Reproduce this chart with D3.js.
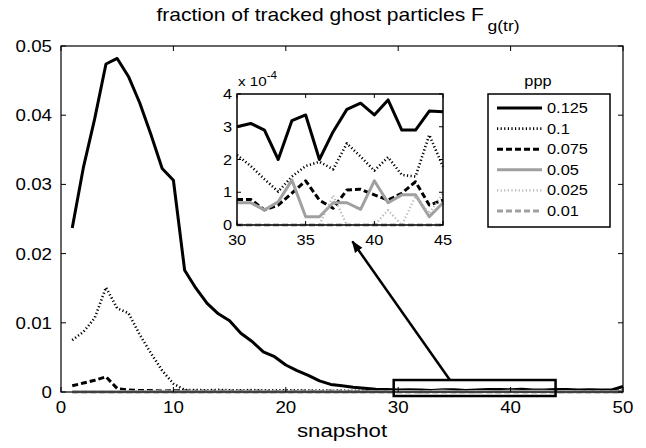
<!DOCTYPE html>
<html>
<head>
<meta charset="utf-8">
<script src="https://cdn.jsdelivr.net/npm/d3@7/dist/d3.min.js"></script>
<style>
  html, body { margin: 0; padding: 0; background: #fff; }
  svg { display: block; font-family: "Liberation Sans", Arial, Helvetica, sans-serif; }
</style>
</head>
<body>
<svg id="chart" width="646" height="448"></svg>
<script>
// Snapshot index (x) and the fraction of tracked ghost particles for each ppp level
const snapshots = d3.range(1, 51);
const pppLabels = ["0.125", "0.1", "0.075", "0.05", "0.025", "0.01"];

const ppp0125 = [
  0.0237, 0.0325, 0.0395, 0.0474, 0.0482, 0.0456, 0.0418, 0.0372, 0.0323, 0.0306,
  0.0176, 0.0150, 0.0128, 0.0113, 0.0103, 0.0085, 0.0073, 0.0058, 0.0051, 0.0039,
  0.0031, 0.0024, 0.0016, 0.0011, 0.0009, 0.0007, 0.00055, 0.0004, 0.00035, 0.000300,
  0.000310, 0.000290, 0.000200, 0.000319, 0.000336, 0.000200, 0.000285, 0.000353, 0.000372, 0.000336,
  0.000382, 0.000290, 0.000290, 0.000348, 0.000346, 0.00030, 0.00032, 0.00028, 0.00030, 0.0008
];
const ppp01 = [
  0.0075, 0.0087, 0.0107, 0.0151, 0.0121, 0.0114, 0.0083, 0.0056, 0.0031, 0.0012,
  0.0003, 0.00028, 0.00025, 0.0003, 0.00026, 0.00024, 0.00028, 0.00022, 0.00025, 0.00023,
  0.00024, 0.0002, 0.00022, 0.00018, 0.0002, 0.00017, 0.0002, 0.00019, 0.0002, 0.000214,
  0.000180, 0.000140, 0.000102, 0.000148, 0.000180, 0.000193, 0.000170, 0.000249, 0.000209, 0.000166,
  0.000207, 0.000153, 0.000148, 0.000275, 0.000178, 0.00018, 0.00015, 0.0002, 0.00016, 0.00018
];
const ppp0075 = [
  0.0009, 0.0013, 0.0017, 0.0022, 0.0005, 0.0003, 0.0002, 0.0002, 0.00015, 0.0002,
  0.00015, 0.0001, 0.00012, 0.0001, 0.0001, 0.00012, 0.0001, 0.0001, 0.00008, 0.0001,
  0.00009, 0.0001, 0.00008, 0.0001, 0.00008, 0.00009, 0.00007, 0.00008, 0.00008, 0.000078,
  0.000078, 0.000046, 0.000061, 0.000097, 0.000135, 0.000076, 0.000051, 0.000107, 0.000109, 0.000092,
  0.000076, 0.000097, 0.000132, 0.000061, 0.000076, 0.00007, 0.00008, 0.00006, 0.00007, 0.00008
];
const ppp005 = [
  0.00003, 0.00003, 0.00003, 0.00003, 0.00003, 0.00003, 0.00003, 0.00003, 0.00003, 0.00003,
  0.00003, 0.00003, 0.00003, 0.00003, 0.00003, 0.00003, 0.00003, 0.00003, 0.00003, 0.00003,
  0.00003, 0.00003, 0.00003, 0.00003, 0.00003, 0.00003, 0.00003, 0.00003, 0.00003, 0.000068,
  0.000068, 0.000046, 0.000071, 0.000137, 0.000025, 0.000025, 0.000068, 0.000068, 0.000048, 0.000135,
  0.000068, 0.000092, 0.000092, 0.000025, 0.000068, 0.00003, 0.00003, 0.00003, 0.00003, 0.00003
];
const ppp0025 = [
  0, 0, 0, 0, 0, 0, 0, 0, 0, 0,
  0, 0, 0, 0, 0, 0, 0, 0, 0, 0,
  0, 0, 0, 0, 0, 0, 0, 0, 0, 0,
  0, 0, 0, 0, 0, 0, 0.000090, 0, 0, 0,
  0.000045, 0, 0.000088, 0.000035, 0.000098, 0, 0, 0, 0, 0
];
const ppp001 = [
  0, 0, 0, 0, 0, 0, 0, 0, 0, 0,
  0, 0, 0, 0, 0, 0, 0, 0, 0, 0,
  0, 0, 0, 0, 0, 0, 0, 0, 0, 0,
  0, 0, 0, 0, 0, 0, 0, 0, 0, 0,
  0, 0, 0, 0, 0, 0, 0, 0, 0, 0
];

// Axis tick values
const mainXTicks = [0, 10, 20, 30, 40, 50];
const mainYTicks = [0, 0.01, 0.02, 0.03, 0.04, 0.05];
const insetXTicks = [30, 35, 40, 45];
const insetYTicks = [0, 1e-4, 2e-4, 3e-4, 4e-4];

// Zoomed window (snapshot range and value range) and the arrow linking it to the inset
const zoomWindowX = [29.6, 44];
const zoomWindowY = [-0.00058, 0.00173];
const insetRangeX = [30, 45];

const seriesList = [
  { label: pppLabels[0], values: ppp0125, color: "#000", width: 3, dash: null },
  { label: pppLabels[1], values: ppp01, color: "#000", width: 2.6, dash: "1.2,2.4" },
  { label: pppLabels[2], values: ppp0075, color: "#000", width: 3, dash: "6,3" },
  { label: pppLabels[3], values: ppp005, color: "#a0a0a0", width: 3, dash: null },
  { label: pppLabels[4], values: ppp0025, color: "#b4b4b4", width: 2.2, dash: "1.2,2.4" },
  { label: pppLabels[5], values: ppp001, color: "#a0a0a0", width: 3, dash: "6,3" }
];

const svg = d3.select("#chart");

// Text is set in a slightly widened sans-serif
const WIDEN = 1.17;
function label(g, px, py, str, size, anchor) {
  return g.append("text")
    .attr("transform", `translate(${px},${py}) scale(${WIDEN},1)`)
    .attr("text-anchor", anchor || "start")
    .attr("font-size", size)
    .text(str);
}

// ---------- main axes ----------
const x = d3.scaleLinear().domain([0, 50]).range([61, 623]);
const y = d3.scaleLinear().domain([0, 0.05]).range([392, 46]);
const tickLen = 5;
const fmtMain = v => v === 0 ? "0" : d3.format(".2f")(v);

const main = svg.append("g");

// lines
const lineMain = d3.line().x((d, i) => x(snapshots[i])).y(d => y(d));
seriesList.forEach(s => {
  main.append("path")
    .attr("d", lineMain(s.values))
    .attr("fill", "none")
    .attr("stroke", s.color)
    .attr("stroke-width", s.width)
    .attr("stroke-dasharray", s.dash)
    .attr("stroke-linejoin", "round");
});

// box and inward ticks
main.append("rect")
  .attr("x", x(0)).attr("y", y(0.05))
  .attr("width", x(50) - x(0)).attr("height", y(0) - y(0.05))
  .attr("fill", "none").attr("stroke", "#000").attr("stroke-width", 1.2);

mainXTicks.forEach(t => {
  main.append("line").attr("x1", x(t)).attr("x2", x(t)).attr("y1", y(0)).attr("y2", y(0) - tickLen)
    .attr("stroke", "#000").attr("stroke-width", 1);
  main.append("line").attr("x1", x(t)).attr("x2", x(t)).attr("y1", y(0.05)).attr("y2", y(0.05) + tickLen)
    .attr("stroke", "#000").attr("stroke-width", 1);
  label(main, x(t), y(0) + 21, t, 16, "middle");
});
mainYTicks.forEach(t => {
  main.append("line").attr("x1", x(0)).attr("x2", x(0) + tickLen).attr("y1", y(t)).attr("y2", y(t))
    .attr("stroke", "#000").attr("stroke-width", 1);
  main.append("line").attr("x1", x(50)).attr("x2", x(50) - tickLen).attr("y1", y(t)).attr("y2", y(t))
    .attr("stroke", "#000").attr("stroke-width", 1);
  label(main, x(0) - 9, y(t) + 6, fmtMain(t), 16, "end");
});

// title and x label
const title = label(svg, 338, 21, "", 18, "middle");
title.append("tspan").text("fraction of tracked ghost particles F");
title.append("tspan").attr("dx", 3).attr("dy", 10).attr("font-size", 15).text("g(tr)");

label(svg, 342, 437, "snapshot", 19, "middle");

// zoom window rectangle
main.append("rect")
  .attr("x", x(zoomWindowX[0])).attr("y", y(zoomWindowY[1]))
  .attr("width", x(zoomWindowX[1]) - x(zoomWindowX[0]))
  .attr("height", y(zoomWindowY[0]) - y(zoomWindowY[1]))
  .attr("fill", "none").attr("stroke", "#000").attr("stroke-width", 2.5);

// ---------- inset axes ----------
const xi = d3.scaleLinear().domain(insetRangeX).range([237, 443]);
const yi = d3.scaleLinear().domain([0, 4e-4]).range([225, 94]);
const inset = svg.append("g");

inset.append("rect")
  .attr("x", xi(30)).attr("y", yi(4e-4))
  .attr("width", xi(45) - xi(30)).attr("height", yi(0) - yi(4e-4))
  .attr("fill", "#fff");

const insetIdx = snapshots.map((s, i) => i).filter(i => snapshots[i] >= insetRangeX[0] && snapshots[i] <= insetRangeX[1]);
const lineInset = d3.line().x(i => xi(snapshots[i]));
seriesList.forEach(s => {
  inset.append("path")
    .attr("d", lineInset.y(i => yi(s.values[i]))(insetIdx))
    .attr("fill", "none")
    .attr("stroke", s.color)
    .attr("stroke-width", s.width)
    .attr("stroke-dasharray", s.dash)
    .attr("stroke-linejoin", "round");
});

inset.append("rect")
  .attr("x", xi(30)).attr("y", yi(4e-4))
  .attr("width", xi(45) - xi(30)).attr("height", yi(0) - yi(4e-4))
  .attr("fill", "none").attr("stroke", "#000").attr("stroke-width", 1.5);

const insetTick = 4;
insetXTicks.forEach(t => {
  inset.append("line").attr("x1", xi(t)).attr("x2", xi(t)).attr("y1", yi(0)).attr("y2", yi(0) - insetTick)
    .attr("stroke", "#000").attr("stroke-width", 1);
  inset.append("line").attr("x1", xi(t)).attr("x2", xi(t)).attr("y1", yi(4e-4)).attr("y2", yi(4e-4) + insetTick)
    .attr("stroke", "#000").attr("stroke-width", 1);
  label(inset, xi(t), yi(0) + 20, t, 14, "middle");
});
insetYTicks.forEach(t => {
  inset.append("line").attr("x1", xi(30)).attr("x2", xi(30) + insetTick).attr("y1", yi(t)).attr("y2", yi(t))
    .attr("stroke", "#000").attr("stroke-width", 1);
  inset.append("line").attr("x1", xi(45)).attr("x2", xi(45) - insetTick).attr("y1", yi(t)).attr("y2", yi(t))
    .attr("stroke", "#000").attr("stroke-width", 1);
  label(inset, xi(30) - 5, yi(t) + 5, Math.round(t * 1e4), 14, "end");
});

// exponent label
const expo = label(inset, xi(30) + 1, 86, "", 13, "start");
expo.append("tspan").text("x 10");
expo.append("tspan").attr("dy", -7).attr("font-size", 10).text("-4");

// arrow from zoom window to inset
const arrowStart = [x(34.6), y(zoomWindowY[1])];
const arrowEnd = [xi(38.4), yi(-0.5e-4)];
svg.append("defs").append("marker")
  .attr("id", "head").attr("viewBox", "0 0 12 10").attr("refX", 11).attr("refY", 5)
  .attr("markerWidth", 5).attr("markerHeight", 4).attr("orient", "auto")
  .attr("markerUnits", "strokeWidth")
  .append("path").attr("d", "M0,0.5 L12,5 L0,9.5 Z").attr("fill", "#000");
svg.append("line")
  .attr("x1", arrowStart[0]).attr("y1", arrowStart[1])
  .attr("x2", arrowEnd[0]).attr("y2", arrowEnd[1])
  .attr("stroke", "#000").attr("stroke-width", 2.5)
  .attr("marker-end", "url(#head)");

// ---------- legend ----------
const legend = svg.append("g");
legend.append("rect").attr("x", 488).attr("y", 94).attr("width", 122).attr("height", 133)
  .attr("fill", "#fff").attr("stroke", "#000").attr("stroke-width", 1.5);
label(legend, 538, 86, "ppp", 14, "middle");
const rowY = d3.scaleLinear().domain([0, 5]).range([108, 211]);
seriesList.forEach((s, i) => {
  legend.append("line").attr("x1", 497).attr("x2", 542).attr("y1", rowY(i)).attr("y2", rowY(i))
    .attr("stroke", s.color).attr("stroke-width", s.width).attr("stroke-dasharray", s.dash);
  label(legend, 547, rowY(i) + 5, s.label, 14, "start");
});
</script>
</body>
</html>
